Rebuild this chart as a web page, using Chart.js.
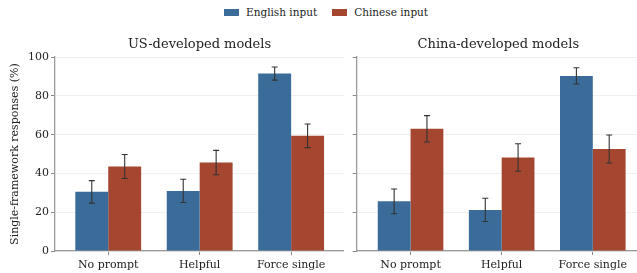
<!DOCTYPE html>
<html>
<head>
<meta charset="utf-8">
<script src="https://cdn.jsdelivr.net/npm/chart.js@4.4.1/dist/chart.umd.min.js"></script>
<style>
  html, body { margin: 0; padding: 0; background: #fff; overflow: hidden; }
  body { width: 637px; height: 273px; position: relative; font-family: 'DejaVu Serif', 'Liberation Serif', serif; }
  canvas { position: absolute; top: 0; }
  #legend { position: absolute; left: 224px; top: 6px; display: flex; align-items: center; font-size: 10.5px; color: #222; white-space: nowrap; }
  #legend .sw { display: inline-block; width: 15px; height: 7px; margin-right: 7px; }
  #legend .item { display: flex; align-items: center; margin-right: 15px; }
</style>
</head>
<body>
<div id="legend"></div>
<canvas id="c1" width="344" height="273" style="left:0px"></canvas>
<canvas id="c2" width="295" height="273" style="left:345px"></canvas>
<script>
// ---- data ----
const categories = ['No prompt', 'Helpful', 'Force single'];
const seriesNames = ['English input', 'Chinese input'];
const panelTitles = ['US-developed models', 'China-developed models'];
const yTicks = [0, 20, 40, 60, 80, 100];

const usEnglish    = [30.5, 31.0, 91.5];
const usEnglishErr = [5.8, 6.0, 3.4];
const usChinese    = [43.6, 45.6, 59.4];
const usChineseErr = [6.2, 6.3, 6.1];

const cnEnglish    = [25.6, 21.2, 90.3];
const cnEnglishErr = [6.4, 6.0, 4.2];
const cnChinese    = [63.0, 48.2, 52.6];
const cnChineseErr = [6.8, 7.1, 7.2];

// ---- styles ----
const BLUE = '#3b6c99';
const RED = '#a54630';
const FONT = "'DejaVu Serif', 'Liberation Serif', serif";
const SPINE = '#9a9a9a';
const TEXT = '#222';

// legend (HTML)
const legendEl = document.getElementById('legend');
[[seriesNames[0], BLUE], [seriesNames[1], RED]].forEach(([n, c]) => {
  const it = document.createElement('span'); it.className = 'item';
  const sw = document.createElement('span'); sw.className = 'sw'; sw.style.background = c;
  it.appendChild(sw); it.appendChild(document.createTextNode(n));
  legendEl.appendChild(it);
});

const errorBars = {
  id: 'errorBars',
  afterDatasetsDraw(chart) {
    const ctx = chart.ctx;
    const ys = chart.scales.y;
    ctx.save();
    ctx.strokeStyle = '#333';
    ctx.lineWidth = 1.1;
    chart.data.datasets.forEach((ds, di) => {
      const meta = chart.getDatasetMeta(di);
      meta.data.forEach((el, i) => {
        const v = ds.data[i].y, e = ds.err[i];
        const x = el.x;
        const y1 = ys.getPixelForValue(v + e), y2 = ys.getPixelForValue(v - e);
        ctx.beginPath();
        ctx.moveTo(x, y1); ctx.lineTo(x, y2);
        ctx.moveTo(x - 3, y1); ctx.lineTo(x + 3, y1);
        ctx.moveTo(x - 3, y2); ctx.lineTo(x + 3, y2);
        ctx.stroke();
      });
    });
    ctx.restore();
  }
};

function toPoints(arr) { return arr.map((v, i) => ({ x: i, y: v })); }

function makeChart(id, title, eng, engErr, chi, chiErr, xmin, xmax, yWidth, showYLabels) {
  return new Chart(document.getElementById(id), {
    type: 'bar',
    data: {
      datasets: [
        { label: seriesNames[0], data: toPoints(eng), err: engErr, backgroundColor: BLUE, borderWidth: 0 },
        { label: seriesNames[1], data: toPoints(chi), err: chiErr, backgroundColor: RED, borderWidth: 0 }
      ]
    },
    options: {
      responsive: false,
      animation: false,
      devicePixelRatio: 1,
      layout: { padding: 0 },
      datasets: { bar: { categoryPercentage: 0.72, barPercentage: 1.0 } },
      plugins: {
        legend: { display: false },
        tooltip: { enabled: false },
        title: {
          display: true, text: title, fullSize: false, color: TEXT,
          font: { family: FONT, size: 13, weight: 'normal' },
          padding: { top: 37, bottom: 4.5 }
        }
      },
      scales: {
        x: {
          type: 'linear', offset: false, min: xmin, max: xmax,
          afterBuildTicks: s => { s.ticks = categories.map((c, i) => ({ value: i })); },
          afterFit: s => { s.height = 22; },
          ticks: { callback: v => categories[v], color: TEXT, padding: 3.5,
                   font: { family: FONT, size: 11 }, maxRotation: 0, autoSkip: false },
          grid: { display: true, drawOnChartArea: false, drawTicks: true, tickLength: 4,
                  tickColor: '#888', tickWidth: 1, offset: false },
          border: { display: true, color: SPINE, width: 1.3 }
        },
        y: {
          min: 0, max: 100,
          afterBuildTicks: s => { s.ticks = yTicks.map(v => ({ value: v })); },
          afterFit: s => { s.width = yWidth; },
          ticks: { display: showYLabels, color: TEXT, padding: 2, font: { family: FONT, size: 11 } },
          grid: { color: '#ececec', lineWidth: 0.8, drawTicks: true, tickLength: 4, tickColor: '#888', tickWidth: 1 },
          border: { display: true, color: SPINE, width: 1.3 },
          title: { display: showYLabels, text: 'Single-framework responses (%)', color: TEXT,
                   font: { family: FONT, size: 11 }, padding: { top: 8.4, bottom: 0 } }
        }
      }
    },
    plugins: [errorBars]
  });
}

makeChart('c1', panelTitles[0], usEnglish, usEnglishErr, usChinese, usChineseErr, -0.582, 2.578, 55, true);
makeChart('c2', panelTitles[1], cnEnglish, cnEnglishErr, cnChinese, cnChineseErr, -0.591, 2.518, 11.7, false);
</script>
</body>
</html>
